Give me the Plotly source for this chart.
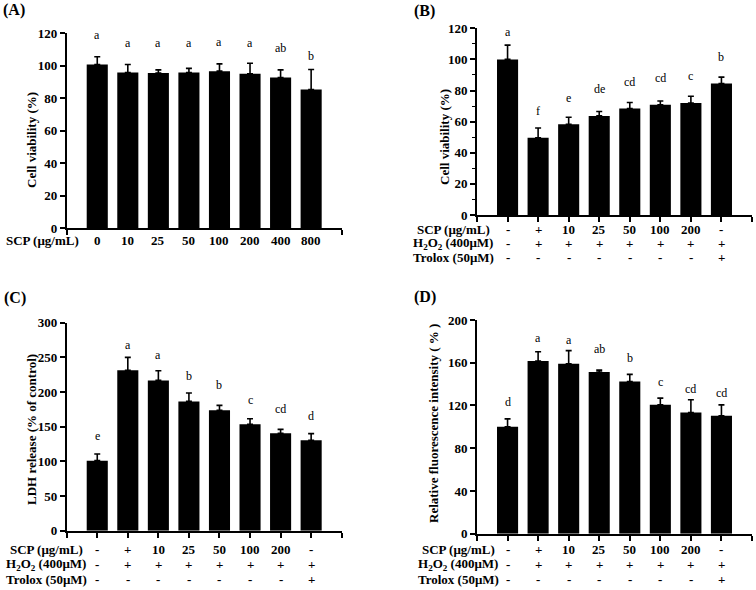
import plotly.graph_objects as go

W, H = 756, 590

# ---------------- data ----------------
x_idx = [0, 1, 2, 3, 4, 5, 6, 7]

A_ticks = ['0', '10', '25', '50', '100', '200', '400', '800']
A_mean = [100.8, 95.9, 95.5, 95.9, 96.7, 95.1, 92.8, 85.4]
A_sd = [4.8, 4.9, 2.0, 2.5, 4.5, 6.5, 4.7, 12.3]
A_sig = ['a', 'a', 'a', 'a', 'a', 'a', 'ab', 'b']
A_sig_y = [115.3, 110.3, 110.3, 110.3, 111.2, 110.3, 107.4, 102.5]

B_mean = [100.0, 49.7, 58.3, 63.7, 68.4, 70.8, 72.0, 84.5]
B_sd = [9.2, 6.2, 4.5, 2.8, 3.9, 2.5, 4.3, 4.1]
B_sig = ['a', 'f', 'e', 'de', 'cd', 'cd', 'c', 'b']
B_sig_y = [113.5, 63.0, 71.6, 77.0, 81.7, 84.1, 85.3, 97.8]

C_mean = [101.0, 231.3, 216.8, 186.5, 173.6, 153.4, 140.4, 130.3]
C_sd = [9.6, 18.7, 14.0, 12.1, 7.2, 8.1, 5.8, 9.7]
C_sig = ['e', 'a', 'a', 'b', 'b', 'c', 'cd', 'd']
C_sig_y = [128.4, 259.6, 245.2, 214.9, 201.4, 180.3, 166.8, 157.2]

D_mean = [100.0, 161.6, 159.1, 151.3, 142.5, 120.6, 113.4, 110.3]
D_sd = [7.5, 8.7, 12.2, 1.8, 6.6, 6.3, 11.9, 10.3]
D_sig = ['d', 'a', 'a', 'ab', 'b', 'c', 'cd', 'cd']
D_sig_y = [117.2, 177.2, 175.6, 167.2, 158.4, 136.6, 129.7, 125.9]

SCP_row = ['-', '+', '10', '25', '50', '100', '200', '-']
H2O2_row = ['-', '+', '+', '+', '+', '+', '+', '+']
Trolox_row = ['-', '-', '-', '-', '-', '-', '-', '+']
row_names = ['SCP (μg/mL)', 'H<sub>2</sub>O<sub>2</sub> (400μM)', 'Trolox (50μM)']

A_range, A_tickvals = [0, 120], [0, 20, 40, 60, 80, 100, 120]
B_range, B_tickvals = [0, 120], [0, 20, 40, 60, 80, 100, 120]
C_range, C_tickvals = [0, 300], [0, 50, 100, 150, 200, 250, 300]
D_range, D_tickvals = [0, 200], [0, 40, 80, 120, 160, 200]

# ---------------- layout helpers (screen px -> paper) ----------------
def px_x(p):
    return p / W

def px_y(p):
    return 1 - p / H

SERIF = 'Liberation Serif'
bold = dict(family=SERIF, size=13, color='black', weight='bold')
reg = dict(family=SERIF, size=12, color='black')

panels = [
    dict(k='A', n='', xdom=(66.7, 341.7), ydom=(33.3, 228.3), mean=A_mean, sd=A_sd,
         sig=A_sig, sigy=A_sig_y, rng=A_range, tv=A_tickvals,
         ytitle='Cell viability (%)', tx=31, ty=140, minor=False, label_pos=(14, 10.5)),
    dict(k='B', n='2', xdom=(477, 752), ydom=(28.3, 215), mean=B_mean, sd=B_sd,
         sig=B_sig, sigy=B_sig_y, rng=B_range, tv=B_tickvals,
         ytitle='Cell viability (%)', tx=444, ty=137, minor=True, label_pos=(424, 11)),
    dict(k='C', n='3', xdom=(66.7, 341.7), ydom=(322.7, 530.7), mean=C_mean, sd=C_sd,
         sig=C_sig, sigy=C_sig_y, rng=C_range, tv=C_tickvals,
         ytitle='LDH release (% of control)', tx=32, ty=430, minor=False, label_pos=(15, 298)),
    dict(k='D', n='4', xdom=(477, 752), ydom=(320, 533.7), mean=D_mean, sd=D_sd,
         sig=D_sig, sigy=D_sig_y, rng=D_range, tv=D_tickvals,
         ytitle='Relative fluorescence intensity ( % )', tx=433, ty=424, minor=False, label_pos=(425, 297)),
]

fig = go.Figure()
annotations = []
layout = dict(
    template='none',
    width=W, height=H, margin=dict(l=0, r=0, t=0, b=0, autoexpand=False),
    paper_bgcolor='white', plot_bgcolor='white', showlegend=False,
)

def note(**kw):
    base = dict(showarrow=False, xanchor='center', yanchor='middle')
    base.update(kw)
    annotations.append(base)

for p in panels:
    xa = 'x' + p['n']
    ya = 'y' + p['n']
    fig.add_trace(go.Bar(
        x=x_idx, y=p['mean'], width=0.69,
        marker=dict(color='black', line=dict(width=0)),
        error_y=dict(type='data', symmetric=False, array=p['sd'],
                     arrayminus=[0] * len(p['sd']), color='black',
                     thickness=1.6, width=3),
        xaxis=xa, yaxis=ya, hoverinfo='skip',
    ))
    xticks = [-1, 8] if p['k'] == 'A' else [-1] + x_idx + [8]
    layout['xaxis' + p['n']] = dict(
        domain=[px_x(p['xdom'][0]), px_x(p['xdom'][1])], anchor=ya,
        range=[-1, 8], tickvals=xticks, showticklabels=False, automargin=False,
        ticks='outside', ticklen=5, tickwidth=1.5, tickcolor='black',
        showline=True, linecolor='black', linewidth=1.6,
        showgrid=False, zeroline=False, fixedrange=True,
    )
    ya_dict = dict(
        domain=[px_y(p['ydom'][1]), px_y(p['ydom'][0])], anchor=xa,
        range=p['rng'], tickvals=p['tv'], tickfont=bold, automargin=False,
        ticks='outside', ticklen=5, tickwidth=1.5, tickcolor='black',
        showline=True, linecolor='black', linewidth=1.6,
        showgrid=False, zeroline=False, fixedrange=True,
    )
    if p['minor']:
        ya_dict['minor'] = dict(ticks='outside', ticklen=3, tickwidth=1.2,
                                tickcolor='black', dtick=10, showgrid=False)
    layout['yaxis' + p['n']] = ya_dict

    for i, (s, sy) in enumerate(zip(p['sig'], p['sigy'])):
        note(x=i, y=sy, xref=xa, yref=ya, text=s, yanchor='bottom', yshift=-3, font=reg)
    note(x=px_x(p['tx']), y=px_y(p['ty']), xref='paper', yref='paper',
         text=p['ytitle'], textangle=-90, font=bold)
    note(x=px_x(p['label_pos'][0]), y=px_y(p['label_pos'][1]),
         xref='paper', yref='paper', text='(' + p['k'] + ')',
         font=dict(family=SERIF, size=16, color='black', weight='bold'))

note(x=px_x(42), y=px_y(240), xref='paper', yref='paper', text='SCP (μg/mL)', font=bold)
for i, t in enumerate(A_ticks):
    note(x=i, y=px_y(240), xref='x', yref='paper', text=t, font=bold)

row_specs = [
    ('2', 453, [229, 243, 257]),
    ('3', 46, [549, 564, 579]),
    ('4', 458, [549, 564, 579]),
]
rows = [SCP_row, H2O2_row, Trolox_row]
for n, cx, ys in row_specs:
    for name, vals, yy in zip(row_names, rows, ys):
        note(x=px_x(cx), y=px_y(yy), xref='paper', yref='paper', text=name, font=bold)
        for i, t in enumerate(vals):
            note(x=i, y=px_y(yy), xref='x' + n, yref='paper', text=t, font=bold)

layout['annotations'] = annotations
fig.update_layout(**layout)
# remove the browser's default 8px body margin so the figure sits at the window's corner
fig.write_html('out.html', config={'displayModeBar': False},
               post_script="document.body.style.margin='0px';")
